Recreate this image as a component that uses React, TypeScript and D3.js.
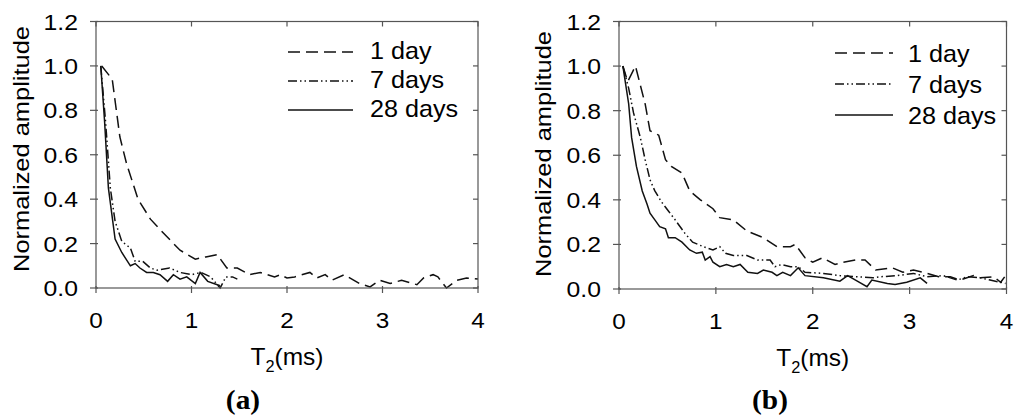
import * as d3 from 'd3';
import React from 'react';

// tick values shared by both panels
const xTicks = [0, 1, 2, 3, 4];
const yTicks = [0, 0.2, 0.4, 0.6, 0.8, 1.0, 1.2];
const seriesNames = ['1 day', '7 days', '28 days'];

// (a) values, [T2 ms, amplitude]
const a1day: [number, number][] = [
    [0.06, 1.0], [0.17, 0.94], [0.25, 0.68], [0.32, 0.56], [0.44, 0.40], [0.57, 0.31], [0.7, 0.25],
    [0.88, 0.17], [1.04, 0.13], [1.15, 0.14], [1.27, 0.15], [1.37, 0.09], [1.48, 0.09], [1.61, 0.06],
    [1.72, 0.07], [1.87, 0.05], [1.93, 0.06], [2.0, 0.045], [2.08, 0.05], [2.24, 0.07], [2.31, 0.045],
    [2.4, 0.06], [2.47, 0.035], [2.6, 0.06], [2.76, 0.02], [2.87, 0.005], [2.97, 0.035], [3.08, 0.02],
    [3.2, 0.035], [3.36, 0.015], [3.43, 0.045], [3.53, 0.06], [3.58, 0.05], [3.67, 0.0], [3.78, 0.035],
    [3.88, 0.045], [4.0, 0.04],
];
const a7days: [number, number][] = [
    [0.05, 1.0], [0.1, 0.75], [0.15, 0.45], [0.2, 0.3], [0.27, 0.21], [0.36, 0.18], [0.41, 0.12],
    [0.49, 0.12], [0.57, 0.09], [0.64, 0.08], [0.77, 0.09], [0.88, 0.07], [1.0, 0.06], [1.1, 0.07],
    [1.2, 0.05], [1.3, 0.0], [1.36, 0.05], [1.43, 0.05], [1.48, 0.04],
];
const a28days: [number, number][] = [
    [0.05, 1.0], [0.09, 0.75], [0.13, 0.45], [0.2, 0.22], [0.27, 0.16], [0.36, 0.1], [0.41, 0.11],
    [0.46, 0.09], [0.53, 0.07], [0.6, 0.07], [0.67, 0.06], [0.75, 0.03], [0.81, 0.06], [0.88, 0.04],
    [0.95, 0.05], [1.04, 0.02], [1.09, 0.07], [1.17, 0.03], [1.3, 0.01],
];

// (b)
const b1day: [number, number][] = [
    [0.04, 1.0], [0.09, 0.93], [0.17, 1.0], [0.27, 0.83], [0.32, 0.71], [0.41, 0.69], [0.48, 0.58],
    [0.54, 0.55], [0.65, 0.52], [0.73, 0.44], [0.84, 0.40], [0.97, 0.36], [1.04, 0.32], [1.18, 0.31],
    [1.32, 0.26], [1.49, 0.23], [1.63, 0.19], [1.77, 0.19], [1.82, 0.2], [1.92, 0.14], [2.0, 0.12],
    [2.1, 0.14], [2.23, 0.11], [2.31, 0.12], [2.44, 0.13], [2.54, 0.13], [2.65, 0.085], [2.82, 0.095],
    [2.93, 0.075], [3.04, 0.085], [3.18, 0.07], [3.3, 0.055], [3.42, 0.055], [3.52, 0.04], [3.66, 0.06],
    [3.73, 0.05], [3.87, 0.055], [3.94, 0.03], [3.99, 0.06],
];
const b7days: [number, number][] = [
    [0.04, 1.0], [0.1, 0.9], [0.15, 0.79], [0.22, 0.68], [0.27, 0.58], [0.32, 0.49], [0.37, 0.44],
    [0.44, 0.39], [0.51, 0.35], [0.58, 0.31], [0.68, 0.25], [0.76, 0.21], [0.87, 0.19], [0.97, 0.175],
    [1.04, 0.19], [1.1, 0.16], [1.18, 0.15], [1.32, 0.15], [1.43, 0.13], [1.56, 0.13], [1.61, 0.1],
    [1.68, 0.11], [1.77, 0.1], [1.85, 0.1], [1.92, 0.075], [2.11, 0.07], [2.28, 0.06], [2.46, 0.055],
    [2.62, 0.05], [2.7, 0.055], [2.87, 0.06], [3.04, 0.07], [3.18, 0.055], [3.35, 0.06], [3.49, 0.04],
    [3.6, 0.055], [3.73, 0.05], [3.83, 0.04], [3.94, 0.03], [3.99, 0.025],
];
const b28days: [number, number][] = [
    [0.04, 1.0], [0.1, 0.83], [0.13, 0.68], [0.18, 0.55], [0.24, 0.44], [0.29, 0.38], [0.32, 0.34],
    [0.37, 0.31], [0.42, 0.28], [0.48, 0.27], [0.51, 0.23], [0.58, 0.23], [0.65, 0.21], [0.73, 0.175],
    [0.8, 0.16], [0.86, 0.165], [0.89, 0.13], [0.94, 0.145], [0.97, 0.12], [1.04, 0.1], [1.11, 0.11],
    [1.18, 0.1], [1.25, 0.11], [1.33, 0.075], [1.43, 0.07], [1.49, 0.085], [1.58, 0.075], [1.63, 0.06],
    [1.69, 0.075], [1.77, 0.06], [1.85, 0.095], [1.92, 0.06], [2.11, 0.05], [2.28, 0.035], [2.36, 0.06],
    [2.46, 0.035], [2.56, 0.01], [2.61, 0.04], [2.77, 0.025], [2.85, 0.02], [2.97, 0.03], [3.11, 0.05],
    [3.18, 0.025],
];

const FONT = '"Liberation Sans", Arial, sans-serif';
const dashes = ['12,6', '9,3,1.5,3,1.5,3', null];

// text with a horizontal stretch, the source font runs wider than Arial
const Txt = (props: any) => {
    const { x, y, size, sx = 1, anchor = 'start', rot = 0, children, family = FONT, weight = 'normal' } = props;
    return (
        <text
            transform={`translate(${x},${y}) rotate(${rot}) scale(${sx},1)`}
            fontFamily={family}
            fontSize={size}
            fontWeight={weight}
            textAnchor={anchor}
            fill="#000"
        >
            {children}
        </text>
    );
};

const Panel = (props: any) => {
    const { left, right, top, bottom, series, legend, yLabel, tag } = props;
    const xScale = d3.scaleLinear().domain([0, 4]).range([left, right]);
    const yScale = d3.scaleLinear().domain([0, 1.2]).range([bottom, top]);
    const line = d3.line<[number, number]>()
        .x((d) => xScale(d[0]))
        .y((d) => yScale(d[1]));
    const axisColor = '#555';
    const midX = (left + right) / 2;

    return (
        <g>
            {series.map((s: any, i: number) => (
                <path key={i} d={line(s) || ''} fill="none" stroke="#111" strokeWidth={1.5}
                    strokeDasharray={dashes[i] || undefined} />
            ))}
            <rect x={left} y={top} width={right - left} height={bottom - top} fill="none" stroke={axisColor} strokeWidth={1.2} />
            {xTicks.map((t) => (
                <g key={'x' + t}>
                    <line x1={xScale(t)} x2={xScale(t)} y1={bottom - 2} y2={bottom + 5} stroke={axisColor} strokeWidth={1.2} />
                    <line x1={xScale(t)} x2={xScale(t)} y1={top} y2={top + 5} stroke={axisColor} strokeWidth={1.2} />
                    <Txt x={xScale(t)} y={bottom + 39.5} size={22.5} sx={1.08} anchor="middle">{t}</Txt>
                </g>
            ))}
            {yTicks.map((t) => (
                <g key={'y' + t}>
                    <line x1={left - 6} x2={left + 2} y1={yScale(t)} y2={yScale(t)} stroke={axisColor} strokeWidth={1.2} />
                    <line x1={right - 5} x2={right} y1={yScale(t)} y2={yScale(t)} stroke={axisColor} strokeWidth={1.2} />
                    <Txt x={left - 18} y={yScale(t) + 8} size={22.5} sx={1.1} anchor="end">{t.toFixed(1)}</Txt>
                </g>
            ))}
            <Txt x={yLabel.x} y={yLabel.y} size={22.5} sx={1.13} anchor="middle" rot={-90}>Normalized amplitude</Txt>
            <Txt x={midX} y={bottom + 77} size={24} sx={1.02} anchor="middle">
                T<tspan fontSize={16} dy={7}>2</tspan><tspan dy={-7}>(ms)</tspan>
            </Txt>
            <Txt x={tag.x} y={409} size={28} sx={1.05} anchor="middle" family='"Liberation Serif", "Times New Roman", serif' weight="bold">
                ({tag.text})
            </Txt>
            {seriesNames.map((name, i) => (
                <g key={name}>
                    <line x1={legend.x1} x2={legend.x2} y1={legend.rows[i]} y2={legend.rows[i]} stroke="#111" strokeWidth={1.5}
                        strokeDasharray={dashes[i] || undefined} />
                    <Txt x={legend.tx} y={legend.rows[i] + legend.base} size={24} sx={1.05}>{name}</Txt>
                </g>
            ))}
        </g>
    );
};

export default function App() {
    return (
        <svg width={1024} height={420} style={{ position: 'absolute', left: 0, top: 0, background: '#fff' }}>
            <rect width={1024} height={420} fill="#fff" />
            <Panel left={96} right={478} top={21.5} bottom={288}
                series={[a1day, a7days, a28days]}
                legend={{ x1: 288, x2: 353, tx: 370, rows: [52, 81, 110], base: 7 }}
                yLabel={{ x: 29, y: 149 }}
                tag={{ x: 243, text: 'a' }} />
            <Panel left={619} right={1006.5} top={21.5} bottom={289}
                series={[b1day, b7days, b28days]}
                legend={{ x1: 835, x2: 893, tx: 908, rows: [53, 84, 115], base: 9 }}
                yLabel={{ x: 551, y: 154 }}
                tag={{ x: 770, text: 'b' }} />
        </svg>
    );
}
